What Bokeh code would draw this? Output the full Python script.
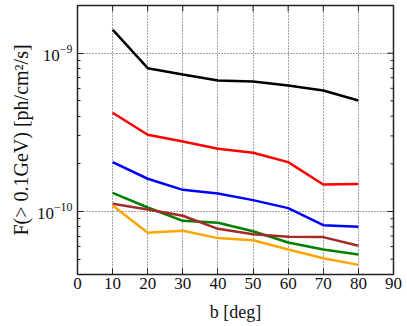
import math
from bokeh.plotting import figure
from bokeh.models import Range1d, FixedTicker, LogTickFormatter
from bokeh.embed import file_html
from bokeh.resources import INLINE

b = [10, 20, 30, 40, 50, 60, 70, 80]
flux_black = [1.41e-9, 8.04e-10, 7.33e-10, 6.73e-10, 6.62e-10, 6.25e-10, 5.81e-10, 5.02e-10]
flux_red = [4.2e-10, 3.05e-10, 2.77e-10, 2.49e-10, 2.35e-10, 2.05e-10, 1.48e-10, 1.49e-10]
flux_blue = [2.05e-10, 1.61e-10, 1.37e-10, 1.30e-10, 1.18e-10, 1.05e-10, 8.19e-11, 8.0e-11]
flux_green = [1.31e-10, 1.06e-10, 8.73e-11, 8.48e-11, 7.5e-11, 6.37e-11, 5.75e-11, 5.35e-11]
flux_brown = [1.12e-10, 1.03e-10, 9.4e-11, 7.77e-11, 7.19e-11, 6.92e-11, 6.89e-11, 6.07e-11]
flux_orange = [1.09e-10, 7.34e-11, 7.56e-11, 6.79e-11, 6.59e-11, 5.75e-11, 5.07e-11, 4.6e-11]

series = [
    (flux_black, "black"),
    (flux_red, "red"),
    (flux_blue, "blue"),
    (flux_green, "green"),
    (flux_brown, "brown"),
    (flux_orange, "orange"),
]

x_ticks = [0, 10, 20, 30, 40, 50, 60, 70, 80, 90]
y_major = [1e-10, 1e-9]
x_min, x_max = 0, 90
y_min, y_max = 4e-11, 2e-9
y_minor = [m * 10.0 ** e for e in (-11, -10, -9) for m in range(2, 10)
           if y_min <= m * 10.0 ** e <= y_max]

FONT = "Times New Roman"
TXT = "#111111"

p = figure(
    output_backend="svg", toolbar_location=None,
    y_axis_type="log",
    x_range=Range1d(x_min, x_max), y_range=Range1d(y_min, y_max),
    frame_width=316, frame_height=269,
    min_border_left=77, min_border_top=5, min_border_right=12, min_border_bottom=48,
)

for ys, c in series:
    p.line(b, ys, line_color=c, line_width=2.5)

p.background_fill_color = "white"
p.border_fill_color = "white"
p.outline_line_color = "#222222"
p.outline_line_width = 1.5

xa = p.xaxis[0]
xa.ticker = FixedTicker(ticks=x_ticks)
xa.axis_label = "b [deg]"
ya = p.yaxis[0]
ya.ticker = FixedTicker(ticks=y_major, minor_ticks=y_minor)
ya.formatter = LogTickFormatter()
ya.axis_label = "F(> 0.1GeV) [ph/cm²/s]"

for ax in (xa, ya):
    ax.major_tick_in = 6
    ax.major_tick_out = 0
    ax.minor_tick_in = 3
    ax.minor_tick_out = 0
    ax.major_tick_line_color = "#222222"
    ax.minor_tick_line_color = "#222222"
    ax.axis_line_color = None
    ax.major_label_text_font = FONT
    ax.major_label_text_font_size = "17px"
    ax.major_label_text_color = TXT
    ax.axis_label_text_font = FONT
    ax.axis_label_text_font_style = "normal"
    ax.axis_label_text_color = TXT
xa.minor_tick_in = 0
xa.axis_label_text_font_size = "18px"
ya.axis_label_text_font_size = "20px"
xa.major_label_standoff = 3
xa.axis_label_standoff = 10
ya.major_label_standoff = 5
ya.axis_label_standoff = 2

# tick marks on the top and right frame edges
n = len(x_ticks)
p.ray(x=x_ticks, y=[y_max] * n, length=6, length_units="screen",
      angle=-math.pi / 2, line_color="#222222", line_width=1)
p.ray(x=[x_max] * len(y_major), y=y_major, length=6, length_units="screen",
      angle=math.pi, line_color="#222222", line_width=1)
p.ray(x=[x_max] * len(y_minor), y=y_minor, length=3, length_units="screen",
      angle=math.pi, line_color="#222222", line_width=1)

p.xgrid.ticker = FixedTicker(ticks=x_ticks)
p.ygrid.ticker = FixedTicker(ticks=y_major)
for g in (p.xgrid[0], p.ygrid[0]):
    g.grid_line_color = "#444444"
    g.grid_line_dash = "1 2"
    g.grid_line_width = 1

open("out.html", "w").write(file_html(p, INLINE))
